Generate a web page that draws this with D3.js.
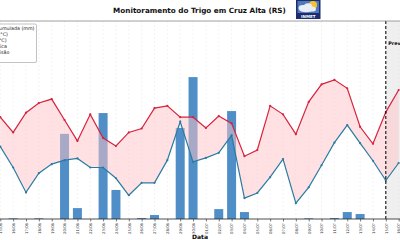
<!DOCTYPE html>
<html>
<head>
<meta charset="utf-8">
<script src="https://d3js.org/d3.v7.min.js"></script>
<style>
    body { margin: 0; background: #fff; }
    svg { display: block; font-family: 'DejaVu Sans', sans-serif; }
</style>
</head>
<body>
<div id="chart"></div>
<script>
// daily data, 15/06 .. 16/07
const dates = ['15/06','16/06','17/06','18/06','19/06','20/06','21/06','22/06','23/06','24/06',
               '25/06','26/06','27/06','28/06','29/06','30/06','01/07','02/07','03/07','04/07',
               '05/07','06/07','07/07','08/07','09/07','10/07','11/07','12/07','13/07','14/07',
               '15/07','16/07'];
const tempMax = [13.0, 10.3, 13.8, 15.5, 16.2, 12.5, 8.8, 13.5, 9.3, 7.9,
                 10.3, 11.0, 14.6, 15.0, 13.0, 13.0, 11.1, 13.2, 11.9, 6.1,
                 7.2, 15.0, 13.5, 10.0, 15.7, 18.8, 19.6, 18.1, 11.3, 8.3,
                 13.9, 17.8];
const tempMin = [7.8, 4.1, -0.3, 3.1, 4.7, 5.4, 5.7, 4.1, 4.1, 2.2,
                 -0.8, 1.4, 1.4, 5.4, 12.2, 5.1, 5.8, 6.7, 9.8, -1.3,
                 -0.4, 2.4, 5.6, -2.2, 0.6, 4.5, 8.5, 11.6, 8.4, 5.3,
                 1.8, 4.9];
const precip = [0, 0.2, 0, 0.2, 0, 25.8, 3.3, 0, 32.1, 8.8,
                0, 0.3, 1.2, 0, 27.6, 43.0, 0, 3.0, 32.7, 2.1,
                0, 0, 0, 0, 0.2, 0, 0.3, 2.1, 1.5, 0,
                0, 0];
const forecastStart = '15/07';
const legendLabels = ['Precipitação Acumulada (mm)', 'Temp. Máxima (°C)', 'Temp. Mínima (°C)',
                      'Amplitude Térmica', 'Período de Previsão'];
const titleText = 'Monitoramento do Trigo em Cruz Alta (RS)';

const W = 400, H = 240;
const plotTop = 21, plotBottom = 219;
const step = 12.85;

const svg = d3.select('#chart').append('svg')
    .attr('width', W).attr('height', H);

const x = d3.scalePoint().domain(dates).range([0.3, 0.3 + step * (dates.length - 1)]);
const yT = d3.scaleLinear().domain([-5, 30]).range([plotBottom, plotTop]);
const yP = d3.scaleLinear().domain([0, 60]).range([plotBottom, plotTop]);

// forecast shading
svg.append('rect')
    .attr('x', x(forecastStart)).attr('y', plotTop)
    .attr('width', W - x(forecastStart) + 20).attr('height', plotBottom - plotTop)
    .attr('fill', '#efefef');

// grid
svg.append('g').selectAll('line').data(dates).enter().append('line')
    .attr('x1', d => x(d)).attr('x2', d => x(d))
    .attr('y1', plotTop).attr('y2', plotBottom)
    .attr('stroke', '#e6e6e6').attr('stroke-width', 0.5)
    .attr('stroke-dasharray', '2,2');

// precipitation bars
const bw = step * 0.7;
svg.append('g').selectAll('rect')
    .data(dates.map((d, i) => ({ d, v: precip[i] })).filter(p => p.v > 0))
    .enter().append('rect')
    .attr('x', p => x(p.d) - bw / 2)
    .attr('y', p => yP(p.v))
    .attr('width', bw)
    .attr('height', p => plotBottom - yP(p.v))
    .attr('fill', '#4f8ec6');

// thermal amplitude band
const rows = dates.map((d, i) => ({ d, hi: tempMax[i], lo: tempMin[i] }));
svg.append('path')
    .datum(rows)
    .attr('d', d3.area().x(r => x(r.d)).y0(r => yT(r.lo)).y1(r => yT(r.hi)))
    .attr('fill', '#ffc4c8').attr('fill-opacity', 0.5);

// temperature lines
function drawLine(vals, color) {
    const pts = dates.map((d, i) => [x(d), yT(vals[i])]);
    svg.append('path')
        .attr('d', d3.line()(pts))
        .attr('fill', 'none').attr('stroke', color).attr('stroke-width', 1.2);
    svg.append('g').selectAll('circle').data(pts).enter().append('circle')
        .attr('cx', p => p[0]).attr('cy', p => p[1]).attr('r', 1.1)
        .attr('fill', color);
}
drawLine(tempMax, '#d7233e');
drawLine(tempMin, '#2a7ba3');

// forecast divider
svg.append('line')
    .attr('x1', x(forecastStart)).attr('x2', x(forecastStart))
    .attr('y1', plotTop).attr('y2', plotBottom)
    .attr('stroke', '#111').attr('stroke-width', 1.1)
    .attr('stroke-dasharray', '3,2');
svg.append('text')
    .attr('x', x(forecastStart) + 2.5).attr('y', 45)
    .attr('font-size', 4.8).attr('font-weight', 'bold')
    .text('Previsão');

// spines
svg.append('line').attr('x1', 0).attr('x2', W).attr('y1', plotTop).attr('y2', plotTop)
    .attr('stroke', '#888').attr('stroke-width', 0.8);

const xAxis = svg.append('g').attr('transform', `translate(0,${plotBottom})`)
    .call(d3.axisBottom(x).tickSize(2.5).tickPadding(1.5));
xAxis.select('.domain').attr('stroke', '#222').attr('stroke-width', 0.8)
    .attr('d', `M-5,0H${W + 5}`);
xAxis.selectAll('.tick line').attr('stroke', '#222').attr('stroke-width', 0.6);
xAxis.selectAll('.tick text')
    .attr('font-size', 3.8).attr('fill', '#333')
    .attr('font-family', "'DejaVu Sans', sans-serif")
    .attr('text-anchor', 'end')
    .attr('dy', '0.35em')
    .attr('transform', 'translate(0,4) rotate(-90)')
    .attr('x', 0).attr('y', 0);

svg.append('text')
    .attr('x', 200).attr('y', 239)
    .attr('text-anchor', 'middle')
    .attr('font-size', 6).attr('font-weight', 'bold')
    .text('Data');

// legend (cropped at left edge)
const legend = svg.append('g');
legend.append('rect')
    .attr('x', -120).attr('y', 24).attr('width', 156.5).attr('height', 38.5)
    .attr('rx', 1.5)
    .attr('fill', '#fff').attr('fill-opacity', 0.9)
    .attr('stroke', '#999').attr('stroke-width', 0.6);
const lt = legend.selectAll('text').data(legendLabels).enter().append('text')
    .attr('y', (d, i) => 30 + i * 6.1)
    .attr('font-size', 4.8).attr('fill', '#222')
    .text(d => d);
const firstLen = lt.node().getComputedTextLength();
lt.attr('x', 34.5 - firstLen);

// title
const title = svg.append('text')
    .attr('x', 199.5).attr('y', 12.5)
    .attr('text-anchor', 'middle')
    .attr('font-size', 7.5).attr('font-weight', 'bold').attr('fill', '#111')
    .text(titleText);
const tl = title.node().getComputedTextLength();
title.attr('font-size', 7.5 * 173 / tl);

// INMET logo
const logo = svg.append('g').attr('transform', 'translate(296,0)');
logo.append('rect').attr('width', 24.5).attr('height', 19).attr('fill', '#1d2c6e');
logo.append('rect').attr('x', 1.5).attr('y', 1).attr('width', 21.5).attr('height', 12)
    .attr('fill', '#4f78b8');
logo.append('circle').attr('cx', 17).attr('cy', 5).attr('r', 4).attr('fill', '#f4c430');
[[7, 8, 4.5, 3], [12, 6.5, 4, 3.2], [16, 9, 4, 2.6], [10, 10, 6.5, 2.2]].forEach(c => {
    logo.append('ellipse').attr('cx', c[0]).attr('cy', c[1]).attr('rx', c[2]).attr('ry', c[3])
        .attr('fill', '#e8eef8');
});
logo.append('text').attr('x', 12.25).attr('y', 17.5)
    .attr('text-anchor', 'middle').attr('font-size', 4).attr('font-weight', 'bold')
    .attr('fill', '#fff').text('INMET');
</script>
</body>
</html>
